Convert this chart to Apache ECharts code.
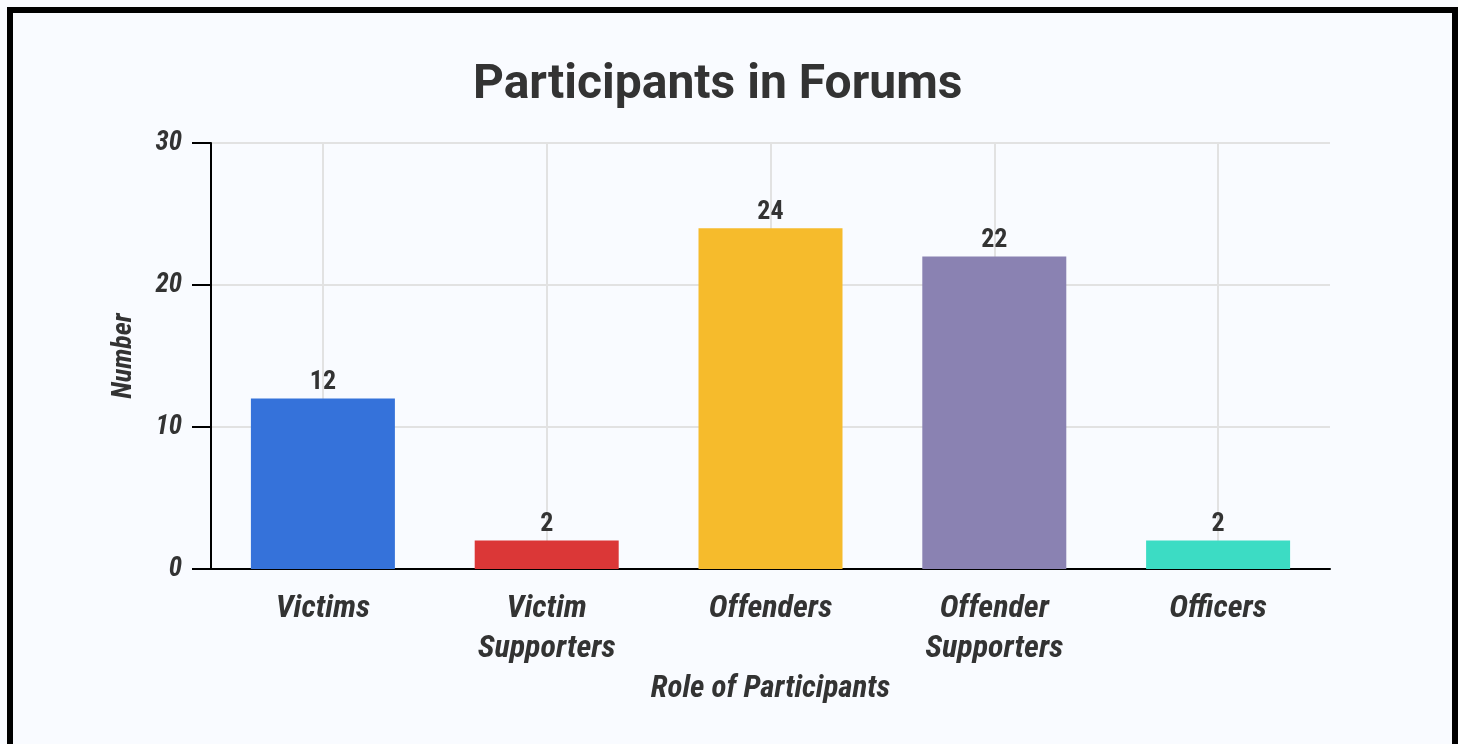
<!DOCTYPE html>
<html>
<head>
<meta charset="utf-8">
<title>Participants in Forums</title>
<script src="https://cdn.jsdelivr.net/npm/echarts@6/dist/echarts.min.js"></script>
<style>
  html, body { margin: 0; padding: 0; background: #f9fbff; overflow: hidden; }
  #chart { position: absolute; left: 0; top: 0; width: 1458px; height: 744px; }
  #frame {
    position: absolute; left: 7px; top: 7px; width: 1439px; height: 800px;
    border: 6px solid #000; pointer-events: none;
  }
</style>
</head>
<body>
<div id="chart"></div>
<div id="frame"></div>
<script>
// Forum participants by role
const roles = ['Victims', 'Victim\nSupporters', 'Offenders', 'Offender\nSupporters', 'Officers'];
const counts = [12, 2, 24, 22, 2];
const barColors = ['#3572da', '#db3737', '#f6bb2c', '#8a82b2', '#3cdcc4'];
const yTicks = { min: 0, max: 30, interval: 10 };

const condensed = "'Roboto Condensed', 'Liberation Sans Narrow', 'DejaVu Sans Condensed', Roboto, sans-serif";
const ink = '#333333';

const chart = echarts.init(document.getElementById('chart'), null, { renderer: 'canvas' });

chart.setOption({
  backgroundColor: 'transparent',
  animation: false,
  title: {
    text: 'Participants in Forums',
    left: 468,
    top: 57,
    textStyle: { fontFamily: 'Roboto', fontWeight: 'bold', fontSize: 48, color: ink }
  },
  grid: { left: 211, right: 128, top: 143, bottom: 175, containLabel: false },
  xAxis: {
    type: 'category',
    data: roles,
    name: 'Role of Participants',
    nameLocation: 'middle',
    nameGap: 94,
    nameTextStyle: { fontFamily: condensed, fontStyle: 'italic', fontWeight: 'bold', fontSize: 31, color: ink },
    axisLine: { lineStyle: { color: '#000', width: 2 } },
    axisTick: { alignWithLabel: true, length: 18, lineStyle: { color: '#000', width: 2 } },
    axisLabel: {
      interval: 0, margin: 20,
      fontFamily: condensed, fontStyle: 'italic', fontWeight: 'bold', fontSize: 32,
      lineHeight: 40, color: ink
    },
    splitLine: { show: true, alignWithLabel: true, interval: 0, lineStyle: { color: '#e2e2e2', width: 2 } }
  },
  yAxis: {
    type: 'value',
    min: yTicks.min, max: yTicks.max, interval: yTicks.interval,
    name: 'Number',
    nameLocation: 'middle',
    nameGap: 73,
    nameRotate: 90,
    nameTextStyle: { fontFamily: condensed, fontStyle: 'italic', fontWeight: 'bold', fontSize: 28, color: ink },
    axisLine: { show: true, lineStyle: { color: '#000', width: 2 } },
    axisTick: { show: true, length: 19, lineStyle: { color: '#000', width: 2 } },
    axisLabel: {
      margin: 29,
      fontFamily: condensed, fontStyle: 'italic', fontWeight: 'bold', fontSize: 27, color: ink
    },
    splitLine: { show: true, lineStyle: { color: '#e2e2e2', width: 2 } }
  },
  series: [{
    type: 'bar',
    barWidth: 144,
    data: counts.map((v, i) => ({ value: v, itemStyle: { color: barColors[i] } })),
    label: {
      show: true, position: 'top', distance: 3,
      fontFamily: condensed, fontWeight: 'bold', fontSize: 26, color: ink
    }
  }]
});
</script>
</body>
</html>
